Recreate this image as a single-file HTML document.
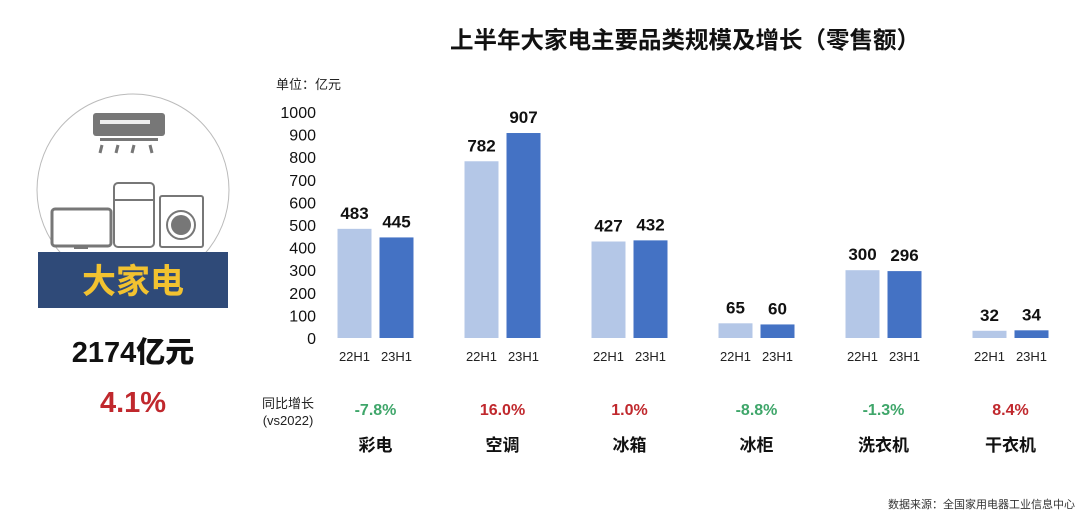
<!DOCTYPE html>
<html><head><meta charset="utf-8">
<style>
body{margin:0;width:1080px;height:515px;background:#fff;overflow:hidden;font-family:"Liberation Sans","Noto Sans CJK SC",sans-serif;position:relative}
.a{position:absolute;white-space:nowrap}
</style></head><body>
<div class="a" style="left:450px;top:21px;font-size:23.5px;font-weight:bold;color:#111">上半年大家电主要品类规模及增长（零售额）</div>
<div class="a" style="left:276px;top:74px;font-size:13px;color:#222">单位：亿元</div>
<svg class="a" style="left:0;top:0" width="1080" height="515">
<g>
<circle cx="133" cy="190" r="96" fill="none" stroke="#bbb" stroke-width="1"/>
<rect x="93" y="113" width="72" height="23" rx="3" fill="#777"/>
<rect x="100" y="120" width="50" height="4" fill="#eee"/>
<rect x="100" y="138" width="58" height="3" fill="#777"/>
<g stroke="#777" stroke-width="3"><line x1="102" y1="145" x2="100" y2="153"/><line x1="118" y1="145" x2="116" y2="153"/><line x1="134" y1="145" x2="132" y2="153"/><line x1="150" y1="145" x2="152" y2="153"/></g>
<rect x="52" y="209" width="59" height="37" rx="3" fill="#fff" stroke="#777" stroke-width="3"/>
<rect x="74" y="246" width="14" height="3" fill="#777"/>
<rect x="114" y="183" width="40" height="64" rx="4" fill="#fff" stroke="#777" stroke-width="2"/>
<line x1="114" y1="200" x2="154" y2="200" stroke="#777" stroke-width="2"/>
<rect x="160" y="196" width="43" height="51" rx="2" fill="#fff" stroke="#777" stroke-width="2"/>
<circle cx="181" cy="225" r="14" fill="#fff" stroke="#777" stroke-width="2"/>
<circle cx="181" cy="225" r="10" fill="#777"/>
</g>
<rect x="38" y="252" width="190" height="56" fill="#2f4a78"/>
<text x="133" y="293" text-anchor="middle" font-size="34" fill="#f2c230" font-weight="bold">大家电</text>
<text x="133" y="362" text-anchor="middle" font-size="29" font-weight="900" fill="#111">2174亿元</text>
<text x="133" y="412" text-anchor="middle" font-size="29" font-weight="bold" fill="#c0282d">4.1%</text>
<text x="288" y="408" text-anchor="middle" font-size="13" fill="#222">同比增长</text>
<text x="288" y="425" text-anchor="middle" font-size="13" fill="#222">(vs2022)</text>
<text x="1075" y="508" text-anchor="end" font-size="11" fill="#333">数据来源：全国家用电器工业信息中心</text>
<g id="plot"></g>
</svg>
<script>
const categories=["彩电","空调","冰箱","冰柜","洗衣机","干衣机"];
const h22=[483,782,427,65,300,32];
const h23=[445,907,432,60,296,34];
const growth=["-7.8%","16.0%","1.0%","-8.8%","-1.3%","8.4%"];
const ticks=[0,100,200,300,400,500,600,700,800,900,1000];
const ns="http://www.w3.org/2000/svg",g=document.getElementById('plot');
const y=v=>338-v*0.226, cx=i=>375.5+i*127;
function mk(t,a,txt){const e=document.createElementNS(ns,t);for(const k in a)e.setAttribute(k,a[k]);if(txt!=null)e.textContent=txt;g.appendChild(e);return e;}
ticks.forEach(t=>{const e=mk('text',{x:316,y:y(t)+6,'text-anchor':'end','font-size':16,fill:'#111'},t);

});
categories.forEach((c,i)=>{
 [[h22,-21,'#b4c7e7','22H1'],[h23,21,'#4472c4','23H1']].forEach(([arr,o,col,lab])=>{
  const v=arr[i],x=cx(i)+o;
  const r=mk('rect',{x:x-17,y:y(v),width:34,height:338-y(v),fill:col});
  
  
  const t=mk('text',{x:x,y:y(v)-10,'text-anchor':'middle','font-size':17,'font-weight':'bold',fill:'#111'},v);
  
  
  const l=mk('text',{x:x,y:361,'text-anchor':'middle','font-size':13,fill:'#222'},lab);
  
  
 });
 const gr=mk('text',{x:cx(i),y:415,'text-anchor':'middle','font-size':16,'font-weight':'bold',fill:growth[i][0]=='-'?'#3fa66a':'#c0282d'},growth[i]);
 
 
 const cl=mk('text',{x:cx(i),y:451,'text-anchor':'middle','font-size':17,'font-weight':'bold',fill:'#111'},c);
 
 
});
</script>
</body></html>
